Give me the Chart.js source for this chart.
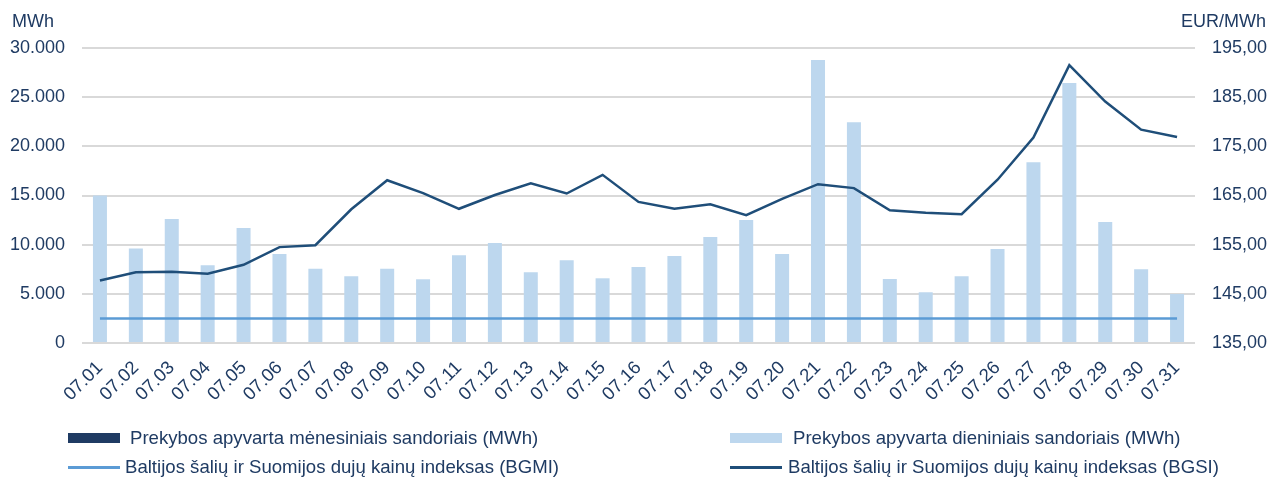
<!DOCTYPE html>
<html>
<head>
<meta charset="utf-8">
<script src="https://cdn.jsdelivr.net/npm/chart.js@4"></script>
<style>
  html, body { margin: 0; padding: 0; background: #ffffff; }
  body { width: 1282px; height: 478px; position: relative; overflow: hidden; font-family: "Liberation Sans", Arial, sans-serif; }
  #wrap { position: absolute; left: 0; top: 0; width: 1282px; height: 420px; }
  #legend { position: absolute; left: 0; top: 0; width: 1282px; height: 478px; pointer-events: none; }
  .li { position: absolute; font-size: 18.6px; color: #1F3B63; white-space: nowrap; line-height: 20px; }
  .sw { position: absolute; }
</style>
</head>
<body>
<div id="wrap"><canvas id="c" width="1282" height="420"></canvas></div>
<div id="legend"></div>
<script>
const categories = ["07.01","07.02","07.03","07.04","07.05","07.06","07.07","07.08","07.09","07.10",
  "07.11","07.12","07.13","07.14","07.15","07.16","07.17","07.18","07.19","07.20",
  "07.21","07.22","07.23","07.24","07.25","07.26","07.27","07.28","07.29","07.30","07.31"];

const monthlyVolume = [0,0,0,0,0,0,0,0,0,0,0,0,0,0,0,0,0,0,0,0,0,0,0,0,0,0,0,0,0,0,0];

const dailyVolume = [15000, 9600, 12600, 7900, 11700, 9050, 7560, 6780, 7560, 6480,
  8920, 10170, 7190, 8410, 6580, 7730, 8850, 10780, 12510, 9050,
  28790, 22450, 6510, 5160, 6780, 9560, 18380, 26450, 12310, 7500, 4980];

const bgmi = [140,140,140,140,140,140,140,140,140,140,140,140,140,140,140,140,
  140,140,140,140,140,140,140,140,140,140,140,140,140,140,140];

const bgsi = [147.7, 149.4, 149.5, 149.1, 150.9, 154.5, 154.9, 162.2, 168.1, 165.5,
  162.3, 165.1, 167.5, 165.4, 169.2, 163.7, 162.3, 163.2, 161.0, 164.3,
  167.3, 166.5, 162.0, 161.5, 161.2, 168.2, 176.8, 191.5, 184.1, 178.4, 176.9];

const leftTickLabels = ["0","5.000","10.000","15.000","20.000","25.000","30.000"];
const rightTickLabels = ["135,00","145,00","155,00","165,00","175,00","185,00","195,00"];
const leftAxisTitle = "MWh";
const rightAxisTitle = "EUR/MWh";

const seriesNames = [
  "Prekybos apyvarta mėnesiniais sandoriais (MWh)",
  "Prekybos apyvarta dieniniais sandoriais (MWh)",
  "Baltijos šalių ir Suomijos dujų kainų indeksas (BGMI)",
  "Baltijos šalių ir Suomijos dujų kainų indeksas (BGSI)"
];

const TEXT = "#1F3B63";
const FONT = "'Liberation Sans', Arial, sans-serif";

const axisTitles = {
  id: "axisTitles",
  afterDraw(chart) {
    const ctx = chart.ctx;
    ctx.save();
    ctx.fillStyle = TEXT;
    ctx.font = "18px " + FONT;
    ctx.textBaseline = "alphabetic";
    ctx.textAlign = "left";
    ctx.fillText(leftAxisTitle, 12, 27);
    ctx.textAlign = "right";
    ctx.fillText(rightAxisTitle, 1266, 27);
    ctx.restore();
  }
};

const chart = new Chart(document.getElementById("c"), {
  data: {
    labels: categories,
    datasets: [
      { type: "bar", label: seriesNames[0], data: monthlyVolume, backgroundColor: "#1F3B63", yAxisID: "y", order: 2 },
      { type: "bar", label: seriesNames[1], data: dailyVolume, backgroundColor: "#BDD7EE", yAxisID: "y", order: 2 },
      { type: "line", label: seriesNames[2], data: bgmi, borderColor: "#5B9BD5", borderWidth: 2.5, pointRadius: 0, yAxisID: "y1", order: 0, tension: 0 },
      { type: "line", label: seriesNames[3], data: bgsi, borderColor: "#1F4E79", borderWidth: 2.5, pointRadius: 0, yAxisID: "y1", order: 0, tension: 0 }
    ]
  },
  options: {
    responsive: false,
    animation: false,
    events: [],
    layout: { padding: { top: 48, left: 0, right: 0, bottom: 0 } },
    datasets: { bar: { grouped: false, categoryPercentage: 1, barPercentage: 0.39 } },
    plugins: { legend: { display: false }, tooltip: { enabled: false } },
    scales: {
      x: {
        offset: true,
        grid: { display: false },
        border: { display: false },
        ticks: { color: TEXT, font: { family: FONT, size: 18.5 }, maxRotation: 45, minRotation: 45, padding: 6, autoSkip: false },
        afterFit(s) { s.height = 77; }
      },
      y: {
        position: "left",
        min: 0, max: 30000,
        grid: { color: "#D9D9D9", lineWidth: 2, drawTicks: false },
        border: { display: false },
        ticks: { stepSize: 5000, color: TEXT, font: { family: FONT, size: 18 }, padding: 17,
          callback: (v, i) => leftTickLabels[i] },
        afterFit(s) { s.width = 82; }
      },
      y1: {
        position: "right",
        min: 135, max: 195,
        grid: { display: false, drawTicks: false },
        border: { display: false },
        ticks: { stepSize: 10, color: TEXT, font: { family: FONT, size: 18 }, padding: 17,
          callback: (v, i) => rightTickLabels[i] },
        afterFit(s) { s.width = 87; }
      }
    }
  },
  plugins: [axisTitles]
});

// HTML legend built from the chart's datasets
const legendPos = [
  { x: 68, y: 438, text: 130 },
  { x: 730, y: 438, text: 793 },
  { x: 68, y: 467, text: 125 },
  { x: 730, y: 467, text: 788 }
];
const lg = document.getElementById("legend");
chart.data.datasets.forEach((ds, i) => {
  const p = legendPos[i];
  const sw = document.createElement("div");
  sw.className = "sw";
  if (ds.type === "bar") {
    sw.style.left = p.x + "px"; sw.style.top = (p.y - 5) + "px";
    sw.style.width = "52px"; sw.style.height = "10px";
    sw.style.background = ds.backgroundColor;
  } else {
    sw.style.left = p.x + "px"; sw.style.top = (p.y - 1.5) + "px";
    sw.style.width = "52px"; sw.style.height = "3px";
    sw.style.background = ds.borderColor;
  }
  lg.appendChild(sw);
  const t = document.createElement("div");
  t.className = "li";
  t.style.left = p.text + "px";
  t.style.top = (p.y - 10) + "px";
  t.textContent = ds.label;
  lg.appendChild(t);
});
</script>
</body>
</html>
